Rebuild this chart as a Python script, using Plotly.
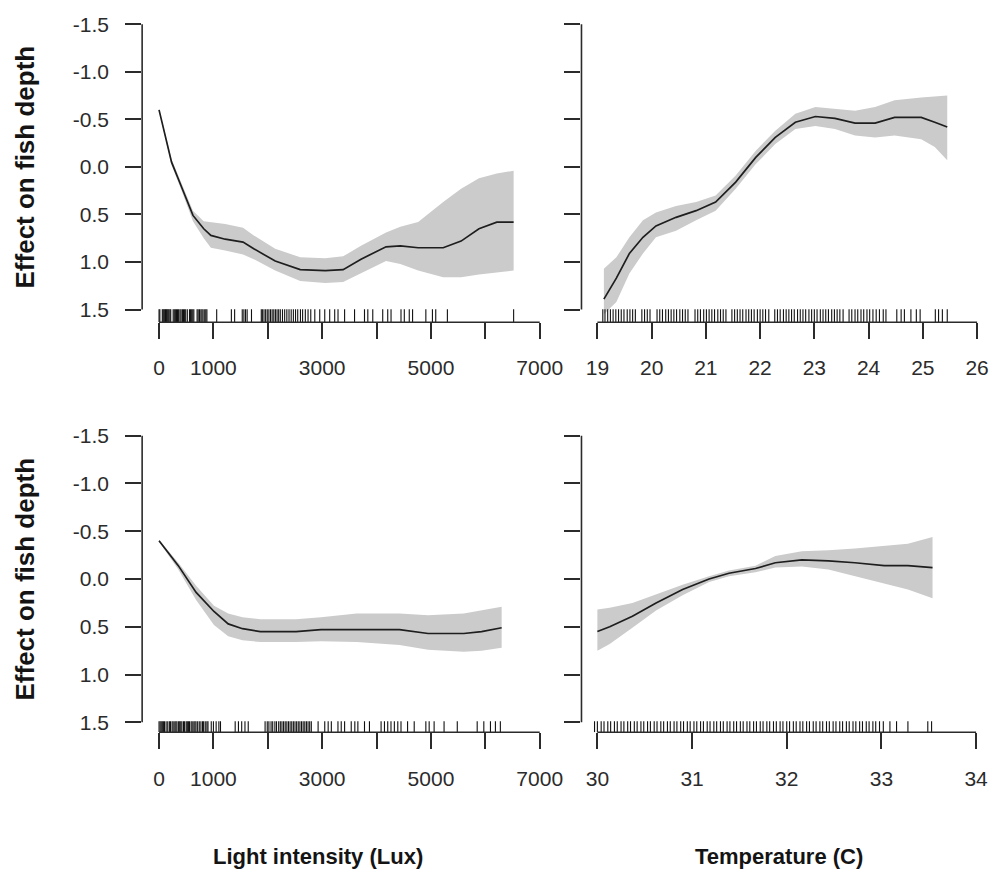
import plotly.graph_objects as go

W, H = 996, 872

# ---------------- data ----------------
# Upper row: light intensity (Lux)
light_a_x = [0, 230, 427, 624, 822, 953, 1216, 1545, 1742, 2136, 2596, 3056, 3385, 3714,
             4174, 4437, 4765, 5225, 5554, 5883, 6211, 6520]
light_a_fit = [-0.60, -0.05, 0.23, 0.51, 0.65, 0.72, 0.76, 0.79, 0.86, 0.99, 1.08, 1.09, 1.08, 0.97,
               0.84, 0.83, 0.85, 0.85, 0.78, 0.65, 0.58, 0.58]
light_a_lo = [-0.61, -0.08, 0.19, 0.46, 0.57, 0.58, 0.60, 0.64, 0.72, 0.86, 0.95, 0.96, 0.94, 0.83,
              0.69, 0.63, 0.58, 0.37, 0.23, 0.12, 0.07, 0.04]
light_a_hi = [-0.59, -0.02, 0.27, 0.57, 0.75, 0.85, 0.88, 0.92, 0.97, 1.09, 1.20, 1.22, 1.21, 1.12,
              0.99, 1.02, 1.09, 1.16, 1.16, 1.13, 1.11, 1.09]
light_a_rug = [0, 15, 60, 75, 90, 105, 120, 135, 150, 165, 180, 200, 215, 260, 280, 300, 320, 340,
               360, 385, 405, 430, 450, 470, 490, 520, 560, 580, 600, 620, 640, 700, 720, 745, 770,
               790, 810, 840, 860, 880, 1060, 1330, 1390, 1530, 1560, 1590, 1620, 1700, 1880, 1900,
               1930, 1960, 1990, 2020, 2050, 2080, 2110, 2140, 2170, 2200, 2230, 2270, 2310, 2350,
               2390, 2430, 2470, 2510, 2550, 2600, 2640, 2690, 2740, 2790, 2864, 2955, 3047, 3138,
               3230, 3291, 3412, 3595, 3778, 3839, 3930, 4113, 4205, 4266, 4449, 4510, 4601, 4662,
               4906, 5027, 5088, 5302, 6520]

# Upper row: temperature (C)
temp_a_x = [19.12, 19.35, 19.59, 19.84, 20.08, 20.45, 20.82, 21.18, 21.55, 21.92, 22.28, 22.65,
            23.02, 23.38, 23.75, 24.12, 24.48, 24.97, 25.22, 25.45]
temp_a_fit = [1.39, 1.17, 0.91, 0.74, 0.62, 0.53, 0.46, 0.37, 0.16, -0.10, -0.31, -0.47,
              -0.53, -0.51, -0.46, -0.46, -0.52, -0.52, -0.47, -0.42]
temp_a_lo = [1.07, 0.95, 0.74, 0.56, 0.48, 0.41, 0.37, 0.30, 0.09, -0.17, -0.38, -0.56,
             -0.63, -0.61, -0.59, -0.63, -0.70, -0.73, -0.74, -0.75]
temp_a_hi = [1.55, 1.42, 1.12, 0.91, 0.74, 0.67, 0.56, 0.46, 0.23, -0.03, -0.24, -0.40,
             -0.43, -0.40, -0.33, -0.31, -0.33, -0.29, -0.21, -0.07]
temp_a_rug = [19.10, 19.14, 19.19, 19.24, 19.29, 19.34, 19.39, 19.44, 19.49, 19.55, 19.60, 19.65,
              19.70, 19.82, 19.87, 19.92, 19.97, 20.10, 20.15, 20.20, 20.26, 20.31, 20.36, 20.41,
              20.46, 20.52, 20.57, 20.62, 20.67, 20.80, 20.85, 20.90, 20.96, 21.01, 21.06, 21.11,
              21.16, 21.22, 21.27, 21.32, 21.37, 21.48, 21.53, 21.58, 21.63, 21.68, 21.74, 21.79,
              21.84, 21.89, 21.95, 22.00, 22.05, 22.10, 22.16, 22.27, 22.32, 22.37, 22.43, 22.48,
              22.53, 22.58, 22.63, 22.69, 22.74, 22.79, 22.84, 22.90, 22.95, 23.00, 23.05, 23.11,
              23.16, 23.21, 23.26, 23.32, 23.37, 23.42, 23.47, 23.53, 23.64, 23.69, 23.75, 23.80,
              23.86, 23.91, 23.97, 24.02, 24.08, 24.14, 24.20, 24.27, 24.32, 24.52, 24.60, 24.66,
              24.78, 24.88, 24.95, 25.23, 25.29, 25.36, 25.45]

# Lower row: light intensity (Lux)
light_b_x = [0, 354, 682, 1010, 1272, 1535, 1863, 2519, 2978, 3634, 4422, 4947, 5603, 5931, 6300]
light_b_fit = [-0.40, -0.14, 0.14, 0.34, 0.47, 0.52, 0.55, 0.55, 0.53, 0.53, 0.53, 0.57, 0.57, 0.55, 0.51]
light_b_lo = [-0.41, -0.17, 0.07, 0.28, 0.36, 0.40, 0.42, 0.42, 0.40, 0.36, 0.36, 0.38, 0.36, 0.33, 0.29]
light_b_hi = [-0.39, -0.10, 0.22, 0.48, 0.60, 0.64, 0.66, 0.66, 0.65, 0.66, 0.69, 0.74, 0.76, 0.75, 0.72]
light_b_rug = [0, 20, 40, 60, 80, 100, 130, 160, 190, 210, 240, 260, 290, 310, 330, 360, 380, 400,
               420, 450, 470, 500, 520, 540, 560, 590, 610, 640, 660, 680, 710, 740, 770, 800, 820,
               850, 880, 900, 960, 1000, 1050, 1100, 1130, 1400, 1460, 1520, 1580, 1640, 1950, 1990,
               2020, 2060, 2090, 2130, 2160, 2200, 2230, 2260, 2290, 2320, 2350, 2380, 2410, 2440,
               2470, 2500, 2530, 2560, 2590, 2620, 2650, 2680, 2710, 2740, 2770, 2800, 2925, 3047,
               3110, 3168, 3290, 3350, 3412, 3534, 3600, 3656, 3778, 3869, 4083, 4145, 4205, 4265,
               4327, 4390, 4449, 4570, 4692, 4906, 4967, 5058, 5241, 5484, 5850, 5972, 6094, 6185,
               6276]

# Lower row: temperature (C)
temp_b_x = [30.00, 30.13, 30.37, 30.62, 30.90, 31.18, 31.39, 31.67, 31.88, 32.16, 32.44, 32.72,
            33.03, 33.28, 33.54]
temp_b_fit = [0.55, 0.50, 0.39, 0.25, 0.11, 0.00, -0.06, -0.11, -0.17, -0.20, -0.19, -0.17,
              -0.14, -0.14, -0.12]
temp_b_lo = [0.32, 0.30, 0.25, 0.16, 0.06, -0.03, -0.09, -0.14, -0.24, -0.29, -0.30, -0.32,
             -0.35, -0.37, -0.44]
temp_b_hi = [0.75, 0.68, 0.51, 0.33, 0.17, 0.03, -0.03, -0.07, -0.12, -0.13, -0.10, -0.03,
             0.04, 0.11, 0.20]
temp_b_rug = [29.97, 30.00, 30.04, 30.07, 30.11, 30.14, 30.18, 30.21, 30.25, 30.28, 30.32, 30.35,
              30.39, 30.42, 30.46, 30.49, 30.53, 30.56, 30.60, 30.63, 30.67, 30.70, 30.74, 30.77,
              30.81, 30.84, 30.88, 30.91, 30.95, 30.98, 31.02, 31.05, 31.09, 31.12, 31.16, 31.19,
              31.23, 31.26, 31.30, 31.33, 31.37, 31.40, 31.44, 31.47, 31.51, 31.54, 31.58, 31.61,
              31.65, 31.68, 31.72, 31.75, 31.79, 31.82, 31.86, 31.89, 31.93, 31.96, 32.00, 32.03,
              32.07, 32.10, 32.14, 32.17, 32.21, 32.24, 32.28, 32.31, 32.35, 32.38, 32.42, 32.45,
              32.49, 32.52, 32.56, 32.59, 32.63, 32.66, 32.70, 32.73, 32.77, 32.80, 32.84, 32.87,
              32.91, 32.94, 32.98, 33.02, 33.09, 33.16, 33.28, 33.49, 33.53]

# Tick values / labels
y_ticks = [-1.5, -1.0, -0.5, 0.0, 0.5, 1.0, 1.5]
y_labels = ["-1.5", "-1.0", "-0.5", "0.0", "0.5", "1.0", "1.5"]
light_ticks = [0, 1000, 2000, 3000, 4000, 5000, 6000, 7000]
light_labels = ["0", "1000", "", "3000", "", "5000", "", "7000"]
temp_a_ticks = [19, 20, 21, 22, 23, 24, 25, 26]
temp_b_ticks = [30, 31, 32, 33, 34]

# ---------------- styling ----------------
FONT = "Liberation Sans, Arial, sans-serif"
INK = "#2b2b2b"
BAND = "#cbcbcb"

# Panel geometry in pixels: plot-area box and the pixel positions of two reference ticks
panels = [
    dict(box=(143, 560, 10, 322), xref=((0, 160), (7000, 543)), yref=((-1.5, 23.3), (1.5, 309.3)),
         x=light_a_x, fit=light_a_fit, lo=light_a_lo, hi=light_a_hi, rug=light_a_rug, rug_px=13,
         xt=light_ticks, xl=light_labels, ylab=True),
    dict(box=(585, 996, 10, 322), xref=((19, 601), (26, 983)), yref=((-1.5, 23.3), (1.5, 309.3)),
         x=temp_a_x, fit=temp_a_fit, lo=temp_a_lo, hi=temp_a_hi, rug=temp_a_rug, rug_px=13,
         xt=temp_a_ticks, xl=[str(v) for v in temp_a_ticks], ylab=False),
    dict(box=(143, 560, 425, 733), xref=((0, 160), (7000, 543)), yref=((-1.5, 435.7), (1.5, 723)),
         x=light_b_x, fit=light_b_fit, lo=light_b_lo, hi=light_b_hi, rug=light_b_rug, rug_px=11,
         xt=light_ticks, xl=light_labels, ylab=True),
    dict(box=(585, 996, 425, 733), xref=((30, 601), (34, 982)), yref=((-1.5, 435.7), (1.5, 723)),
         x=temp_b_x, fit=temp_b_fit, lo=temp_b_lo, hi=temp_b_hi, rug=temp_b_rug, rug_px=11,
         xt=temp_b_ticks, xl=[str(v) for v in temp_b_ticks], ylab=False),
]


def px_range(p0, p1, ref):
    """Data range spanning pixels p0..p1 given two (value, pixel) anchors."""
    (v_a, q_a), (v_b, q_b) = ref
    k = (v_b - v_a) / (q_b - q_a)
    return v_a + (p0 - q_a) * k, v_a + (p1 - q_a) * k


fig = go.Figure()
layout = dict(
    width=W, height=H, margin=dict(l=0, r=0, t=0, b=0),
    paper_bgcolor="white", plot_bgcolor="white", showlegend=False,
    font=dict(family=FONT, color=INK, size=21),
)
shapes = []

for i, p in enumerate(panels, start=1):
    xa = "x" if i == 1 else f"x{i}"
    ya = "y" if i == 1 else f"y{i}"
    left, right, top, bottom = p["box"]
    x0, x1 = px_range(left, right, p["xref"])
    y_bot, y_top = px_range(bottom, top, p["yref"])

    # confidence band
    fig.add_trace(go.Scatter(x=p["x"], y=p["lo"], mode="lines", line=dict(width=0, color=BAND),
                             hoverinfo="skip", xaxis=xa, yaxis=ya))
    fig.add_trace(go.Scatter(x=p["x"], y=p["hi"], mode="lines", line=dict(width=0, color=BAND),
                             fill="tonexty", fillcolor=BAND, hoverinfo="skip", xaxis=xa, yaxis=ya))
    # fitted smooth
    fig.add_trace(go.Scatter(x=p["x"], y=p["fit"], mode="lines", line=dict(width=1.7, color="#1e1e1e"),
                             xaxis=xa, yaxis=ya))
    # rug of observations along the bottom
    rug_h = p["rug_px"] * (y_bot - y_top) / (bottom - top)
    rx, ry = [], []
    for v in p["rug"]:
        rx += [v, v, None]
        ry += [y_bot, y_bot - rug_h, None]
    fig.add_trace(go.Scatter(x=rx, y=ry, mode="lines", line=dict(width=1.1, color="#111111"),
                             hoverinfo="skip", xaxis=xa, yaxis=ya))

    axis_common = dict(showgrid=False, zeroline=False, showline=False, ticks="outside",
                       tickcolor=INK, tickwidth=1.6, ticklen=16,
                       tickfont=dict(family=FONT, size=21, color=INK))
    layout["xaxis" if i == 1 else f"xaxis{i}"] = dict(
        axis_common, domain=[left / W, right / W], range=[x0, x1], anchor=ya,
        tickmode="array", tickvals=p["xt"], ticktext=p["xl"], ticklabelstandoff=11)
    layout["yaxis" if i == 1 else f"yaxis{i}"] = dict(
        axis_common, domain=[1 - bottom / H, 1 - top / H], range=[y_bot, y_top], anchor=xa,
        tickmode="array", tickvals=y_ticks, ticktext=y_labels, showticklabels=p["ylab"],
        ticklabelstandoff=12)

    # R-style axis lines running from first to last tick only
    shapes.append(dict(type="line", xref=xa, yref=f"{ya} domain", x0=p["xt"][0], x1=p["xt"][-1],
                       y0=0, y1=0, line=dict(color=INK, width=1.6)))
    shapes.append(dict(type="line", xref=f"{xa} domain", yref=ya, x0=0, x1=0,
                       y0=y_ticks[0], y1=y_ticks[-1], line=dict(color=INK, width=1.6)))

annotations = [
    dict(text="<b>Effect on fish depth</b>", x=25 / W, y=1 - 166 / H, xref="paper", yref="paper",
         textangle=-90, showarrow=False, font=dict(family=FONT, size=26, color="#141414"),
         xanchor="center", yanchor="middle"),
    dict(text="<b>Effect on fish depth</b>", x=25 / W, y=1 - 579 / H, xref="paper", yref="paper",
         textangle=-90, showarrow=False, font=dict(family=FONT, size=26, color="#141414"),
         xanchor="center", yanchor="middle"),
    dict(text="<b>Light intensity (Lux)</b>", x=320 / W, y=1 - 857 / H, xref="paper", yref="paper",
         showarrow=False, font=dict(family=FONT, size=22, color="#141414"),
         xanchor="center", yanchor="middle"),
    dict(text="<b>Temperature (C)</b>", x=784 / W, y=1 - 857 / H, xref="paper", yref="paper",
         showarrow=False, font=dict(family=FONT, size=22, color="#141414"),
         xanchor="center", yanchor="middle"),
]

layout["shapes"] = shapes
layout["annotations"] = annotations
fig.update_layout(**layout)
fig.write_html("out.html")
